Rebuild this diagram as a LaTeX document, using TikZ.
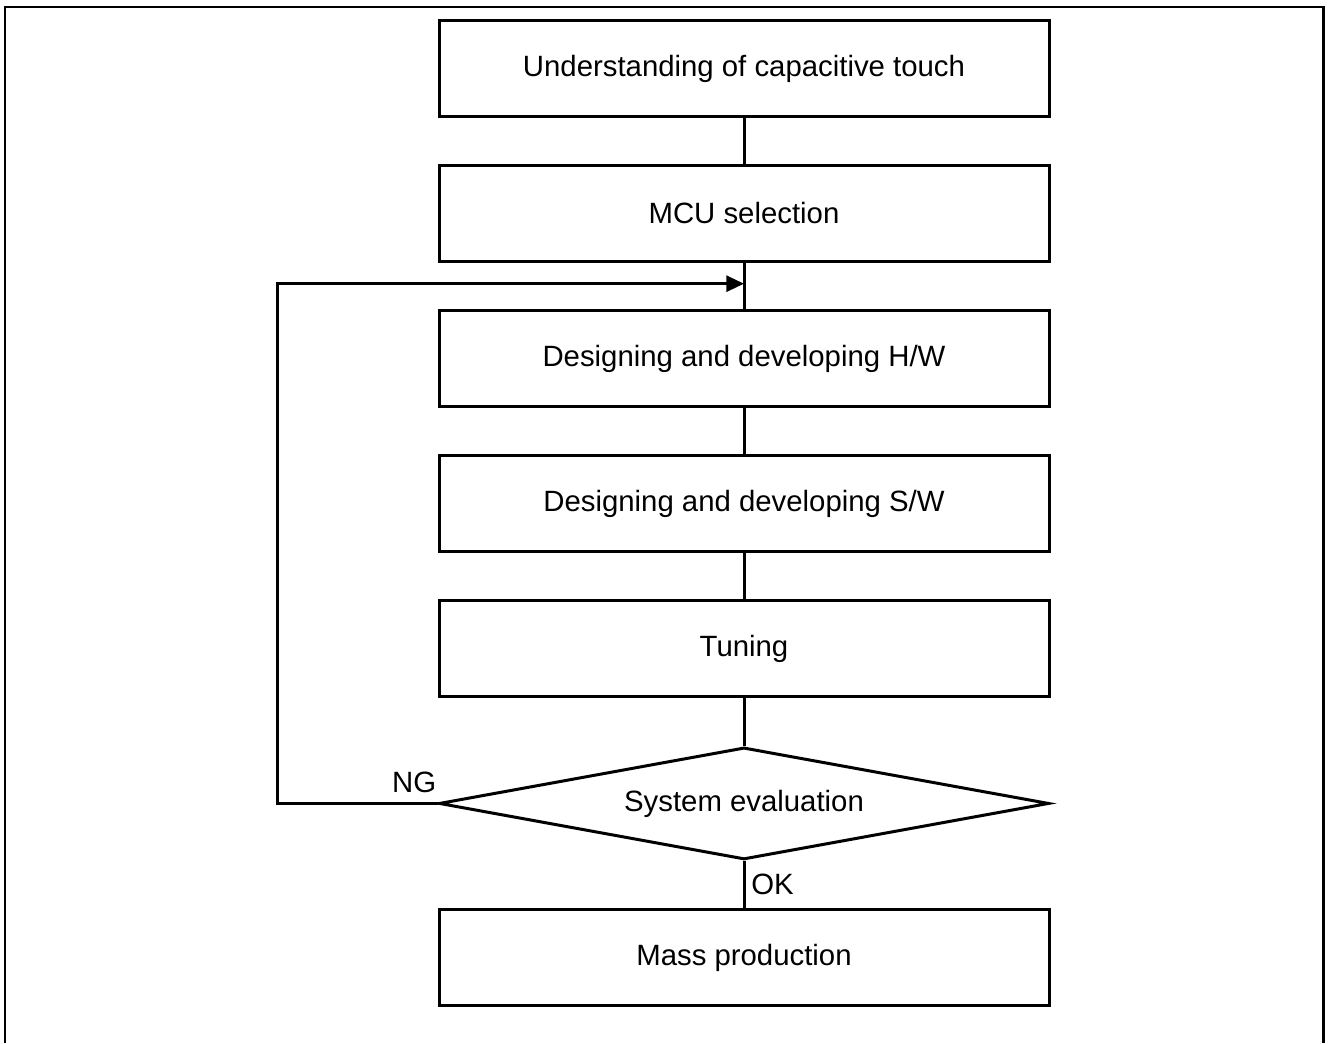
\documentclass[tikz,border=0pt]{standalone}
\usepackage{fontspec}
\setmainfont{Liberation Sans}
\usetikzlibrary{shapes.geometric, arrows.meta, positioning, calc}

\begin{document}
\begin{tikzpicture}[
  node distance=0.92cm,
  font=\fontsize{16.7}{20}\selectfont,
  stepbox/.style={rectangle, draw=black, line width=1.7pt, minimum width=12.2cm, minimum height=1.92cm, align=center},
  check/.style={diamond, draw=black, line width=1.7pt, aspect=5.5, inner sep=0pt, minimum width=12.2cm, minimum height=2.24cm},
  line/.style={line width=1.7pt},
  arrow/.style={-{Triangle[length=10pt, width=9pt]}, line width=1.7pt},
]

\useasboundingbox (0,0) rectangle (26.56,-20.86);

% Frame
\draw[line] (0.1,-20.86) -- (0.1,-0.14) -- (26.46,-0.14) -- (26.46,-20.86);

% Steps
\node[stepbox] (touch) at (14.88,-1.37) {Understanding of capacitive touch};
\node[stepbox, below=of touch] (mcu) {MCU selection};
\node[stepbox, below=of mcu] (hw) {Designing and developing H/W};
\node[stepbox, below=of hw] (sw) {Designing and developing S/W};
\node[stepbox, below=of sw] (tuning) {Tuning};
\node[check, below=0.96cm of tuning] (eval) {System evaluation};
\node[stepbox, below=0.94cm of eval] (mass) {Mass production};

\coordinate (join) at ($(mcu.south)!0.45!(hw.north)$);

% Connections
\draw[line] (touch) -- (mcu);
\draw[line] (mcu) -- (hw);
\draw[line] (hw) -- (sw);
\draw[line] (sw) -- (tuning);
\draw[line] (tuning) -- (eval);
\draw[line] (eval) -- node[right] {OK} (mass);
\draw[arrow] (eval.west) -- ++(-3.2,0) |- (join);
\node[above left=0.2cm and 0.02cm of eval.west, inner sep=0pt] (ng) {NG};

\end{tikzpicture}
\end{document}
